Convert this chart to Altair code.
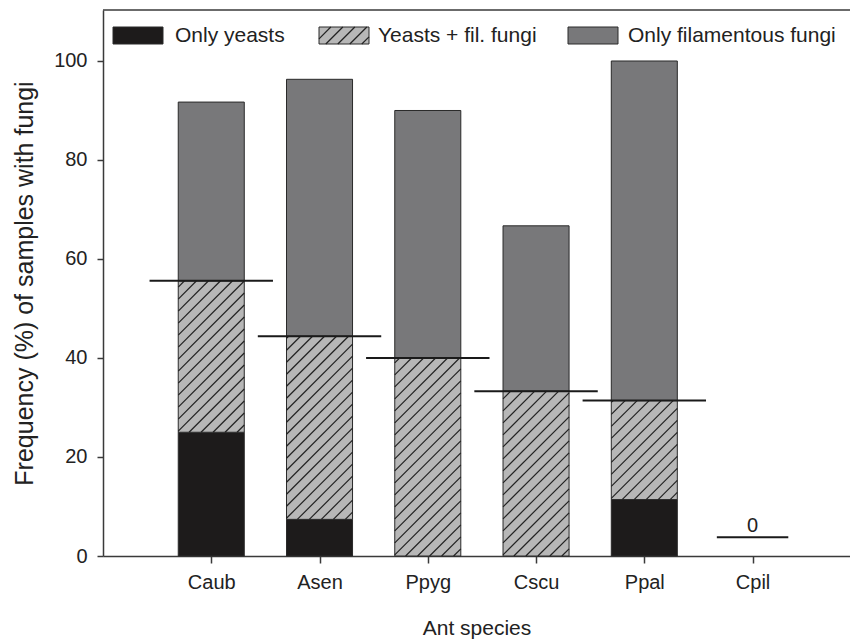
import altair as alt
import numpy as np
import pandas as pd

# ---- data: percentage of samples with fungi, per ant species ----
SPECIES = ["Caub", "Asen", "Ppyg", "Cscu", "Ppal", "Cpil"]
ONLY_YEASTS = [25.0, 7.4, 0.0, 0.0, 11.4, 0.0]
YEASTS_FIL = [30.6, 37.0, 40.0, 33.3, 20.0, 0.0]
ONLY_FIL = [36.1, 51.9, 50.0, 33.4, 68.6, 0.0]
SERIES = ["Only yeasts", "Yeasts + fil. fungi", "Only filamentous fungi"]
Y_TICKS = [0, 20, 40, 60, 80, 100]

# ---- layout / style ----
FONT = "Liberation Sans"
PLOT_W, PLOT_H = 747, 546
PAD_L, PAD_T = 103, 10
X_MAX, Y_MAX = 6.9, 110.3
SX, SY = PLOT_W / X_MAX, PLOT_H / Y_MAX      # pixels per data unit
BAR_HALF = 0.305
LINE_HALF = 0.57
ZERO_HALF, ZERO_MARK_Y, ZERO_TEXT_Y = 0.33, 3.8, 4.9
HATCH_STEP = 12.0
COLORS = ["#1d1b1b", "#b7b7b7", "#78787a"]
EDGE = "#2a2a2a"

# legend swatches, pixel positions inside the plot frame
LEG_SWATCH_X = [113, 319, 568]
LEG_SWATCH_W, LEG_Y0, LEG_Y1 = 50, 27, 44
LEG_TEXT_X = [175, 378, 628]


def px_to_x(px):
    return (px - PAD_L) / SX


def py_to_y(py):
    return (PAD_T + PLOT_H - py) / SY


def hatch(xl, xr, yb, yt):
    """Diagonal '/' hatch segments clipped to a rectangle given in data units."""
    w, h = (xr - xl) * SX, (yt - yb) * SY
    segs = []
    for c in np.arange(-w + HATCH_STEP * 0.6, h, HATCH_STEP):
        u0, u1 = max(0.0, -c), min(w, h - c)
        if u1 - u0 > 0.8:
            segs.append({"hx": xl + u0 / SX, "hy": yb + (u0 + c) / SY,
                         "hx2": xl + u1 / SX, "hy2": yb + (u1 + c) / SY})
    return segs


# stacked segments
bar_rows, hatch_rows, line_rows, zero_rows = [], [], [], []
for i, sp in enumerate(SPECIES):
    pos = i + 1
    base = 0.0
    for s, vals in zip(SERIES, [ONLY_YEASTS, YEASTS_FIL, ONLY_FIL]):
        v = vals[i]
        if v > 0:
            bar_rows.append({"species": sp, "xl": pos - BAR_HALF, "xr": pos + BAR_HALF,
                             "series": s, "y0": base, "y1": base + v})
            if s == SERIES[1]:
                hatch_rows += hatch(pos - BAR_HALF, pos + BAR_HALF, base, base + v)
        base += v
    yeast_total = ONLY_YEASTS[i] + YEASTS_FIL[i]
    if base > 0:
        line_rows.append({"lx": pos - LINE_HALF, "lx2": pos + LINE_HALF, "ly": yeast_total})
    else:
        zero_rows.append({"lx": pos - ZERO_HALF, "lx2": pos + ZERO_HALF, "ly": ZERO_MARK_Y,
                          "tx": pos, "ty": ZERO_TEXT_Y, "label": "0"})

bars_df = pd.DataFrame(bar_rows)
lines_df = pd.DataFrame(line_rows)
zero_df = pd.DataFrame(zero_rows)

# legend entries (converted into data units so they share the plot scales)
leg_rows, leg_text = [], []
for s, x0, tx in zip(SERIES, LEG_SWATCH_X, LEG_TEXT_X):
    xl, xr = px_to_x(x0), px_to_x(x0 + LEG_SWATCH_W)
    yb, yt = py_to_y(LEG_Y1), py_to_y(LEG_Y0)
    leg_rows.append({"series": s, "xl": xl, "xr": xr, "y0": yb, "y1": yt})
    if s == SERIES[1]:
        hatch_rows += hatch(xl, xr, yb, yt)
    leg_text.append({"label": s, "tx": px_to_x(tx), "ty": py_to_y((LEG_Y0 + LEG_Y1) / 2 + 0.5)})
leg_df = pd.DataFrame(leg_rows)
leg_text_df = pd.DataFrame(leg_text)
hatch_df = pd.DataFrame(hatch_rows)

label_expr = "[" + ",".join(["''"] + [f"'{s}'" for s in SPECIES]) + "][datum.value]"
xs = alt.Scale(domain=[0, X_MAX], nice=False, zero=False)
ys = alt.Scale(domain=[0, Y_MAX], nice=False)
x_axis = alt.Axis(values=list(range(1, len(SPECIES) + 1)), labelExpr=label_expr,
                  title="Ant species", grid=False, tickSize=7, labelPadding=9,
                  titlePadding=25, titleFontSize=21)
y_axis = alt.Axis(values=Y_TICKS, title="Frequency (%) of samples with fungi",
                  grid=False, tickSize=6, labelPadding=10, titlePadding=16,
                  titleFontSize=25)


def X(f):
    return alt.X(f, type="quantitative", scale=xs, axis=x_axis)


def Y(f):
    return alt.Y(f, type="quantitative", scale=ys, axis=y_axis)


color = alt.Color("series:N", scale=alt.Scale(domain=SERIES, range=COLORS), legend=None)

bars = alt.Chart(bars_df).mark_bar(stroke=EDGE, strokeWidth=1).encode(
    x=X("xl"), x2="xr", y=Y("y0"), y2="y1", color=color)

legend_boxes = alt.Chart(leg_df).mark_bar(stroke=EDGE, strokeWidth=1).encode(
    x=X("xl"), x2="xr", y=Y("y0"), y2="y1", color=color)

hatch_lines = alt.Chart(hatch_df).mark_rule(color="#222222", strokeWidth=1.2).encode(
    x=X("hx"), y=Y("hy"), x2="hx2", y2="hy2")

yeast_lines = alt.Chart(lines_df).mark_rule(color="#1a1a1a", strokeWidth=2).encode(
    x=X("lx"), x2="lx2", y=Y("ly"))

zero_line = alt.Chart(zero_df).mark_rule(color="#1a1a1a", strokeWidth=2).encode(
    x=X("lx"), x2="lx2", y=Y("ly"))

zero_text = alt.Chart(zero_df).mark_text(font=FONT, fontSize=20, color="#222",
                                         baseline="alphabetic").encode(
    x=X("tx"), y=Y("ty"), text="label:N")

legend_text = alt.Chart(leg_text_df).mark_text(font=FONT, fontSize=21, color="#222",
                                               align="left", baseline="middle").encode(
    x=X("tx"), y=Y("ty"), text="label:N")

top_frame = alt.Chart(pd.DataFrame({"k": [0]})).mark_rule(color="#3a3a3a", strokeWidth=1.5).encode(
    x=alt.value(0), x2=alt.value(PLOT_W), y=alt.value(0))

chart = alt.layer(
    bars, legend_boxes, hatch_lines, yeast_lines, zero_line, zero_text,
    legend_text, top_frame
).properties(
    width=PLOT_W, height=PLOT_H, autosize="none",
    padding={"left": PAD_L, "top": PAD_T, "right": 850 - PAD_L - PLOT_W,
             "bottom": 644 - PAD_T - PLOT_H},
    background="white"
).configure_view(stroke=None).configure_axis(
    labelFont=FONT, titleFont=FONT, labelFontSize=20,
    titleFontWeight="normal", labelColor="#222", titleColor="#222",
    domainColor="#3a3a3a", tickColor="#3a3a3a", domainWidth=1.5, tickWidth=1.5
)

chart.save("out.html", embed_options={"renderer": "svg", "actions": False})
